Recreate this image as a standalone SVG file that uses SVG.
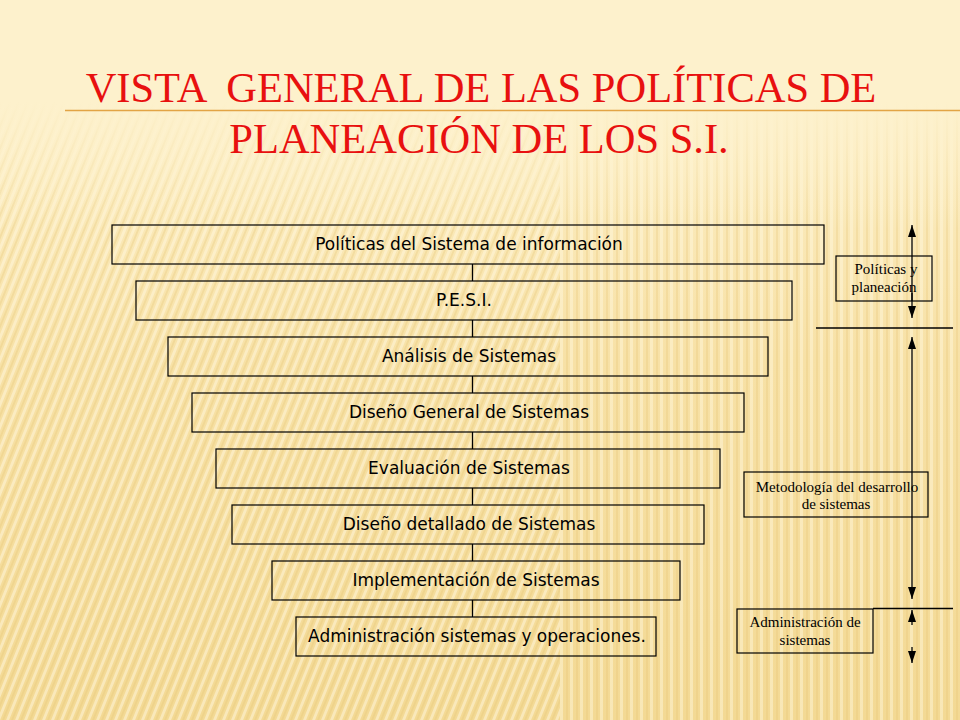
<svg xmlns="http://www.w3.org/2000/svg" width="960" height="720" viewBox="0 0 960 720">
<defs>
<linearGradient id="bg" x1="0" y1="0" x2="0" y2="1">
<stop offset="0" stop-color="#FDF1CC"/>
<stop offset="0.18" stop-color="#FCEDC2"/>
<stop offset="0.5" stop-color="#F7E1A6"/>
<stop offset="1" stop-color="#F3D994"/>
</linearGradient>
<linearGradient id="fade" x1="0" y1="0" x2="0" y2="1">
<stop offset="0" stop-color="#FDF1CC" stop-opacity="1"/>
<stop offset="0.14" stop-color="#FDF1CC" stop-opacity="1"/>
<stop offset="0.32" stop-color="#FDF1CC" stop-opacity="0"/>
<stop offset="1" stop-color="#FDF1CC" stop-opacity="0"/>
</linearGradient>
<pattern id="stripes" width="9" height="40" patternUnits="userSpaceOnUse" patternTransform="skewX(-22)">
<rect x="0" y="0" width="3" height="40" fill="#FFF8E0" fill-opacity="0.5"/>
<rect x="5" y="0" width="2" height="40" fill="#E2C070" fill-opacity="0.28"/>
</pattern>
<pattern id="stripes2" width="10" height="40" patternUnits="userSpaceOnUse">
<rect x="0" y="0" width="3" height="40" fill="#FFF8E0" fill-opacity="0.45"/>
<rect x="6" y="0" width="2" height="40" fill="#E2C070" fill-opacity="0.25"/>
</pattern>
<marker id="ah" markerWidth="12" markerHeight="10" refX="12" refY="5" orient="auto-start-reverse" markerUnits="userSpaceOnUse">
<path d="M0,1 L12,5 L0,9 Z" fill="#000"/>
</marker>
<style>
.box{fill:none;stroke:#000;stroke-width:1.2}
.lbl{font-family:"DejaVu Sans","Noto Sans",sans-serif;font-size:17px;fill:#000;text-anchor:middle}
.side{font-family:"Liberation Serif","DejaVu Serif",serif;font-size:15px;fill:#000;text-anchor:middle}
.ln{stroke:#000;stroke-width:1.3;fill:none}
.title{font-family:"Liberation Serif","Times New Roman",serif;font-size:42.5px;fill:#E8100F;text-anchor:middle}
</style>
</defs>
<rect width="960" height="720" fill="url(#bg)"/>
<rect x="0" y="0" width="560" height="720" fill="url(#stripes)"/>
<rect x="560" y="0" width="400" height="720" fill="url(#stripes2)"/>
<rect width="960" height="720" fill="url(#fade)"/>
<line x1="65" y1="110.5" x2="960" y2="110.5" stroke="#E2A445" stroke-width="1.5"/>
<g id="title">
<text class="title" x="481" y="102" xml:space="preserve">VISTA  GENERAL DE LAS POLÍTICAS DE</text>
<text class="title" x="479" y="153">PLANEACIÓN DE LOS S.I.</text>
</g>
<g id="connectors">
<line class="ln" x1="472.5" y1="264" x2="472.5" y2="281"/>
<line class="ln" x1="472.5" y1="320" x2="472.5" y2="337"/>
<line class="ln" x1="472.5" y1="376" x2="472.5" y2="393"/>
<line class="ln" x1="472.5" y1="432" x2="472.5" y2="449"/>
<line class="ln" x1="472.5" y1="488" x2="472.5" y2="505"/>
<line class="ln" x1="472.5" y1="544" x2="472.5" y2="561"/>
<line class="ln" x1="472.5" y1="600" x2="472.5" y2="617"/>
<line class="ln" x1="912" y1="225" x2="912" y2="318" marker-start="url(#ah)" marker-end="url(#ah)"/>
<line class="ln" x1="816" y1="328" x2="953" y2="328"/>
<line class="ln" x1="912" y1="337" x2="912" y2="599" marker-start="url(#ah)" marker-end="url(#ah)"/>
<line class="ln" x1="873" y1="608.5" x2="953" y2="608.5"/>
<line class="ln" x1="912" y1="625" x2="912" y2="610" marker-end="url(#ah)"/>
<line class="ln" x1="912" y1="647" x2="912" y2="663" marker-end="url(#ah)"/>
</g>
<g id="n1"><rect class="box" x="112" y="225" width="712" height="39"/><text class="lbl" x="469" y="250">Políticas del Sistema de información</text></g>
<g id="n2"><rect class="box" x="136" y="281" width="656" height="39"/><text class="lbl" x="464" y="306">P.E.S.I.</text></g>
<g id="n3"><rect class="box" x="168" y="337" width="600" height="39"/><text class="lbl" x="469" y="362">Análisis de Sistemas</text></g>
<g id="n4"><rect class="box" x="192" y="393" width="552" height="39"/><text class="lbl" x="469" y="418">Diseño General de Sistemas</text></g>
<g id="n5"><rect class="box" x="216" y="449" width="504" height="39"/><text class="lbl" x="469" y="474">Evaluación de Sistemas</text></g>
<g id="n6"><rect class="box" x="232" y="505" width="472" height="39"/><text class="lbl" x="469" y="530">Diseño detallado de Sistemas</text></g>
<g id="n7"><rect class="box" x="272" y="561" width="408" height="39"/><text class="lbl" x="476" y="586">Implementación de Sistemas</text></g>
<g id="n8"><rect class="box" x="296" y="617" width="360" height="39"/><text class="lbl" x="477" y="642">Administración sistemas y operaciones.</text></g>
<g id="s1"><rect class="box" x="836" y="256" width="96" height="45" fill="#F6E2A8"/><line class="ln" x1="912" y1="293" x2="912" y2="301"/><text class="side" x="886" y="274">Políticas y</text><text class="side" x="884" y="292">planeación</text></g>
<g id="s2"><rect class="box" x="744" y="472" width="184" height="45" fill="#F6E2A8"/><text class="side" x="837" y="492">Metodología del desarrollo</text><text class="side" x="836" y="509">de sistemas</text></g>
<g id="s3"><rect class="box" x="737" y="609" width="136" height="44" fill="#F5DFA2"/><text class="side" x="805" y="627">Administración de</text><text class="side" x="805" y="645">sistemas</text></g>
</svg>
